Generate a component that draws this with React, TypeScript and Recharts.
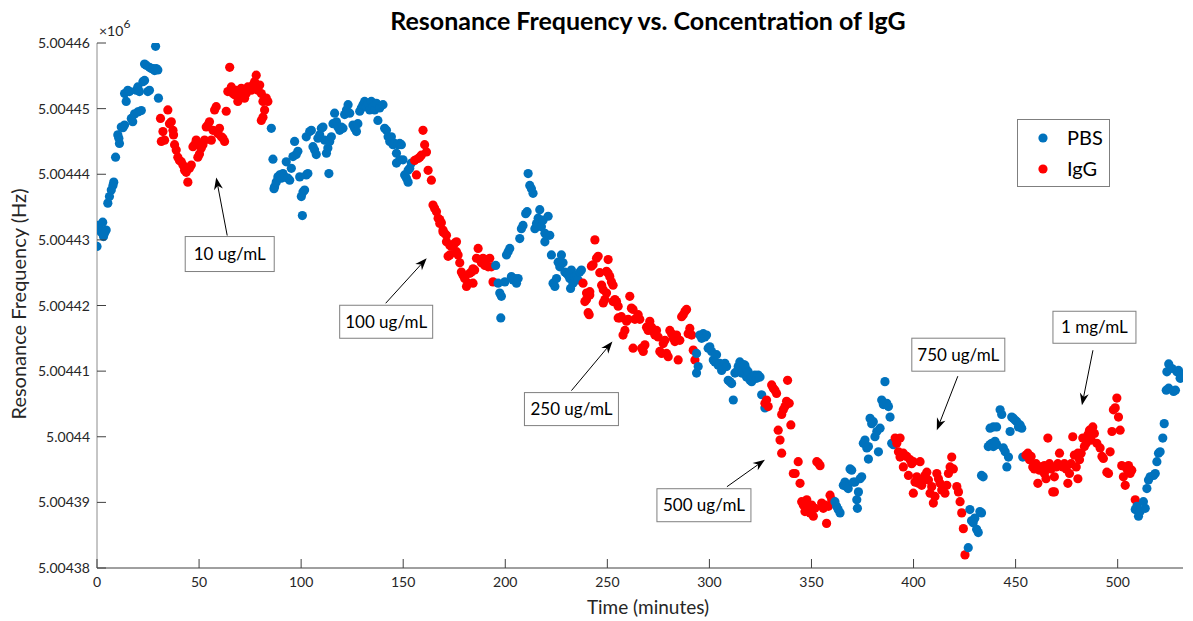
import { ScatterChart, Scatter, XAxis, YAxis, Legend, ReferenceDot } from 'recharts';

// frequency values are stored as Hz above this base (5.00438 x 10^6 Hz)
const BASE_HZ = 5004380;

const PBS_COLOR = '#0072BD';
const IGG_COLOR = '#FF0000';

const xTicks = [0, 50, 100, 150, 200, 250, 300, 350, 400, 450, 500];
const yTicks = [0, 10, 20, 30, 40, 50, 60, 70, 80];

// [time (min), Hz above BASE_HZ]
const pbs1 = [
  [0, 49.0], [0.4, 52.2], [1.2, 51.8], [2, 51.2], [2.8, 52.7], [3.2, 50.5], [3.7, 51.0], [4.5, 51.5],
  [5.3, 55.6], [6.1, 56.6], [7, 57.6], [7.8, 58.3], [8.2, 58.8], [9.1, 62.6], [10.2, 66.0], [10.7, 65.5],
  [11, 64.7], [11.9, 67.2], [12.7, 67.1], [13.5, 67.5], [13.5, 72.3], [14.3, 71.1], [15.1, 72.8], [15.9, 72.6],
  [16.8, 68.5], [17.5, 68.0], [18.4, 69.2], [19.2, 72.8], [20, 73.3], [20, 69.5], [20.8, 72.6], [21.7, 69.7],
  [22.5, 74.1], [23.3, 74.3], [23.3, 76.8], [24.1, 76.6], [24.9, 72.6], [25.7, 72.8], [25.7, 76.3], [26.6, 76.1],
  [27.4, 76.1], [28.2, 75.8], [28.7, 79.5], [29, 76.1], [29.8, 75.9], [30.1, 71.6],
];

const igg1 = [
  [31.1, 68.5], [31.5, 65.0], [32.3, 66.5], [33.1, 65.2], [34.7, 69.8], [35.5, 67.7], [36.4, 68.0], [37.2, 66.7],
  [37.5, 66.0], [38, 64.5], [38.8, 63.7], [39.6, 62.6], [40.4, 62.1], [41.3, 61.9], [42.1, 61.4], [42.9, 60.6],
  [43.7, 60.3], [44.5, 58.8], [45.3, 60.9], [46.2, 61.4], [47, 64.2], [47.8, 64.5], [48.6, 65.2], [49.4, 62.6],
  [50.2, 63.1], [51.1, 64.0], [51.9, 64.5], [52.7, 65.2], [53.5, 67.2], [54.3, 67.5], [55.1, 68.0], [56, 65.2],
  [56.8, 66.7], [57.6, 69.8], [58.4, 70.3], [59.2, 66.2], [60, 67.0], [60.9, 65.7], [61.7, 65.5], [62.5, 65.0],
  [63.3, 69.6], [64.1, 72.6], [65, 76.3], [65.8, 73.3], [66.6, 72.3], [67.4, 72.1], [68.2, 72.8], [69, 71.1],
  [69.9, 71.8], [70.7, 73.1], [71.5, 72.6], [72.3, 71.6], [73.1, 72.3], [73.9, 73.3], [74.8, 73.1], [75.6, 72.8],
  [76.4, 73.6], [77.2, 74.1], [78, 75.1], [78.8, 72.8], [79.7, 73.6], [80.5, 72.3], [80.5, 68.2], [81.3, 71.1],
  [81.3, 68.7], [82.1, 69.8], [82.9, 71.6], [83.7, 71.1],
];

const pbs2 = [
  [85.4, 67.0], [86.2, 62.3], [86.7, 57.8], [87, 58.1], [87.8, 58.8], [88.6, 59.6], [89.5, 59.9], [90.3, 59.4],
  [91.1, 60.1], [91.9, 59.6], [92.7, 61.9], [93.5, 59.4], [94.4, 59.1], [95.2, 60.9], [96, 62.7], [96.8, 65.0],
  [97.6, 63.0], [98.4, 63.5], [99.3, 59.6], [100.1, 56.6], [100.6, 53.7], [100.9, 57.3], [101.7, 57.6], [102.5, 59.9],
  [102.5, 65.7], [103.3, 60.1], [104.2, 66.5], [105, 66.7], [105.8, 64.2], [106.6, 63.7], [107.4, 63.0], [108.2, 65.5],
  [109.1, 66.0], [109.9, 67.0], [110.7, 67.2], [111.5, 65.2], [112.4, 63.2], [113.1, 64.0], [113.6, 60.1], [114, 65.0],
  [114.8, 65.7], [115.6, 67.7], [116.4, 69.3], [117.3, 68.0], [118, 67.2], [118.9, 66.7], [119.7, 67.2], [120.5, 67.0],
  [121.3, 69.1], [122.2, 69.8], [123, 70.6], [123.8, 69.3], [125.4, 67.5], [126.2, 67.0], [127.1, 66.5], [127.8, 67.7],
  [128.7, 69.6], [129.5, 70.1], [130.3, 70.6], [131.1, 71.1], [132, 70.3], [132.8, 70.8], [133.6, 69.8], [134.4, 71.1],
  [135.2, 70.3], [136, 69.8], [136.9, 70.8], [137.6, 68.2], [138.5, 70.1], [140.1, 70.6], [140.9, 67.0], [141.8, 66.7],
  [142.6, 65.7], [143.4, 65.0], [144.2, 65.7], [145, 64.5], [145.8, 64.7], [146.7, 63.2], [146.7, 61.7], [147.4, 64.5],
  [148.3, 64.7], [148.3, 62.2], [149.1, 64.5], [149.9, 62.2], [150.7, 59.9], [151.6, 59.4], [152.4, 58.8], [152.4, 60.6],
  [153.2, 60.9], [154, 61.7],
];

const igg2 = [
  [155.6, 62.1], [156.5, 59.9], [157.3, 62.4], [158.1, 62.6], [158.9, 62.9], [159.7, 66.7], [160.5, 64.5], [161.4, 63.4],
  [162.2, 60.6], [163.8, 59.1], [164.6, 55.3], [165.4, 54.8], [166.3, 54.3], [167.1, 53.3], [167.9, 53.1], [167.9, 52.5],
  [168.7, 52.6], [169.5, 51.5], [169.5, 51.2], [170.3, 51.0], [171.2, 50.7], [171.2, 49.7], [172, 47.5], [172.8, 47.7],
  [172.8, 49.2], [173.6, 49.0], [174.4, 49.2], [175.2, 49.5], [176.1, 48.2], [176.1, 49.7], [176.9, 47.7], [177.7, 46.5],
  [178.5, 45.1], [179.3, 44.6], [180.1, 44.1], [181, 42.9], [181.8, 43.4], [182.6, 44.9], [183.4, 45.1], [184.2, 45.6],
  [184.2, 43.4], [185, 45.4], [185.9, 47.2], [186.7, 48.7], [187.5, 47.0], [188.3, 46.5], [189.1, 47.2], [190, 46.1],
  [190.8, 47.0], [191.6, 45.9], [192.4, 47.2], [193.2, 45.9], [194, 43.6],
];

const pbs3 = [
  [195.3, 46.1], [196.5, 43.4], [197.3, 41.9], [197.8, 38.1], [198.1, 41.4], [199.8, 43.6], [200.6, 47.7], [201.4, 48.2],
  [202.2, 48.7], [203, 44.4], [203.8, 43.9], [204.7, 44.1], [205.5, 43.4], [206.3, 44.1], [207.1, 50.2], [207.9, 51.7],
  [208.7, 52.2], [210, 54.0], [210.7, 54.3], [211.2, 60.1], [212, 58.3], [212.8, 57.8], [213.6, 57.1], [214.5, 51.7],
  [215.3, 52.5], [216.1, 53.3], [216.9, 54.6], [217.7, 52.0], [218.5, 53.0], [219.4, 51.0], [219.4, 49.7], [220.2, 50.7],
  [221, 53.6], [221.8, 50.7], [222.6, 47.7], [223.4, 43.4], [224.3, 42.9], [225.1, 44.1], [225.9, 46.6], [226.7, 45.9],
  [227.5, 47.7], [228.3, 46.5], [229.2, 45.1], [230, 44.9], [230.8, 44.6], [231.6, 44.1], [232, 42.6], [232.4, 45.4],
  [233.2, 43.4], [234, 44.4], [234.9, 44.6], [235.7, 43.9], [236.5, 45.1], [237.3, 45.4],
];

const igg3 = [
  [238.1, 43.4], [239, 40.6], [239.8, 41.9], [239.8, 40.9], [240.6, 38.9], [241.1, 38.6], [241.4, 41.6], [241.4, 42.1],
  [242.2, 46.0], [243, 46.2], [243.9, 50.0], [244.7, 47.2], [245.5, 47.5], [246.3, 45.0], [247.2, 43.1], [248, 42.4],
  [248, 40.4], [248.8, 40.9], [249.6, 45.2], [249.6, 41.9], [250.4, 47.0], [250.4, 44.9], [251.2, 44.4], [252, 43.6],
  [252.8, 40.6], [252.8, 43.1], [253.7, 40.9], [254.5, 40.6], [255.3, 38.1], [255.3, 39.9], [256.1, 38.1], [256.9, 38.3],
  [257.7, 35.5], [258.6, 36.2], [259.4, 37.6], [260.2, 37.9], [261, 41.4], [261.8, 39.6], [262.6, 39.4], [262.6, 33.5],
  [263.5, 37.9], [264.3, 38.1], [265.1, 38.6], [265.9, 37.9], [266.8, 33.5], [267.6, 33.0], [268.4, 34.0], [269.2, 36.7],
  [270, 36.2], [270.8, 37.6], [271.7, 36.7], [272.5, 36.0], [273.3, 35.5], [274.1, 36.2], [274.9, 35.2], [275.7, 33.0],
  [276.6, 32.7], [277.4, 34.2], [278.2, 34.7], [279, 32.7], [279.8, 32.2], [280.6, 36.2], [281.5, 35.7], [282.3, 35.0],
  [283.1, 34.5], [283.9, 35.5], [284.7, 31.7], [285.5, 34.7], [286.4, 38.3], [287.2, 38.6], [288, 39.1], [288.8, 39.4],
  [289.6, 35.7], [290.4, 36.5], [291.3, 35.5], [292.1, 33.2], [292.9, 31.7],
];

const pbs4 = [
  [293.7, 32.7], [293.7, 29.7], [294.5, 30.7], [295.3, 35.5], [296.2, 35.0], [297, 35.7], [297.8, 35.2], [298.6, 35.5],
  [299.4, 33.5], [300.2, 33.7], [301.1, 33.0], [301.9, 31.7], [302.7, 31.4], [303.5, 32.5], [304.3, 30.9], [305.1, 31.2],
  [306, 30.1], [306.8, 30.7], [307.6, 31.2], [308.4, 30.7], [309.2, 28.6], [310, 28.4], [310.9, 28.1], [311.7, 25.6],
  [312.5, 29.7], [313.3, 29.9], [314.1, 30.7], [314.9, 31.4], [315.8, 29.7], [316.6, 30.1], [316.6, 31.0], [317.4, 30.9],
  [318.2, 29.1], [318.2, 30.2], [319, 29.9], [319.9, 28.6], [320.7, 28.4], [320.7, 29.1], [321.5, 29.1], [322.3, 29.4],
  [323.1, 28.9], [323.9, 29.4], [324.8, 29.1], [325.6, 26.4], [327.2, 24.4],
];

const igg4 = [
  [327.2, 25.1], [328, 25.6], [328.8, 24.6], [330.5, 27.9], [331.3, 27.4], [332.1, 27.1], [332.9, 26.6], [333.7, 21.0],
  [334.6, 19.5], [335.4, 17.5], [335.4, 23.4], [336.2, 24.1], [337, 24.6], [337.8, 25.4], [338.3, 28.6], [339.1, 25.1],
  [339.9, 21.8], [341.1, 14.4], [342, 14.4], [343.5, 16.2], [344.4, 12.9], [345.2, 10.1], [346, 9.6], [346.8, 8.6],
  [347.7, 10.4], [348.5, 9.1], [349.3, 8.4], [350.1, 9.6], [350.9, 7.9], [351.7, 9.1], [352.6, 16.2], [353.4, 16.0],
  [354.2, 15.6], [355, 9.9], [355.8, 9.1], [356.6, 9.6], [357.4, 6.8], [358.3, 9.4], [359.1, 11.1], [359.9, 10.4],
];

const pbs5 = [
  [361.5, 10.1], [362.3, 9.4], [363.1, 8.9], [364, 8.4], [365.6, 12.6], [366.4, 13.1], [367.2, 12.4], [368, 12.1],
  [368.9, 15.1], [369.7, 14.9], [370.5, 13.1], [371.3, 13.1], [372.2, 10.4], [372.5, 9.1], [373, 11.6], [373.8, 13.6],
  [374.6, 13.9], [375.4, 19.0], [376.2, 19.5], [377.1, 18.3], [377.9, 18.5], [377.9, 16.6], [378.7, 22.8], [379.5, 22.0],
  [380.3, 22.3], [381.1, 20.0], [382, 20.8], [382.8, 17.7], [383.6, 21.3], [384.4, 25.6], [385.2, 24.9], [386, 28.4],
  [386.9, 25.1], [387.7, 24.6], [388.5, 23.0], [389.3, 19.0], [390.1, 18.8],
];

const igg5 = [
  [391, 19.8], [391.8, 19.0], [392.6, 17.7], [393.4, 19.8], [393.4, 16.9], [394.2, 17.4], [395, 17.5], [395, 15.4],
  [395.8, 17.1], [396.7, 17.0], [397.5, 14.1], [398.3, 16.5], [399.1, 15.9], [399.9, 16.2], [399.9, 11.4], [400.7, 13.1],
  [401.6, 13.9], [402.4, 12.9], [403.2, 16.2], [404, 12.6], [404.8, 13.4], [405.6, 14.1], [406.5, 14.6], [407.3, 13.4],
  [408.1, 11.4], [408.9, 12.4], [409.7, 9.9], [410.5, 10.9], [411.4, 14.4], [412.2, 13.6], [413, 12.9], [413.8, 11.9],
  [414.6, 12.4], [415.4, 11.4], [416.3, 12.6], [417.1, 14.4], [417.9, 15.4], [418.7, 16.9], [419.5, 15.1], [421.2, 12.4],
  [422, 11.6], [422.8, 10.1], [423.6, 8.4], [424.4, 6.0], [425.2, 2.0],
];

const pbs6 = [
  [426.8, 3.1], [427.6, 8.9], [428.4, 7.2], [429.2, 6.9], [430, 7.6], [430.9, 5.9], [431.7, 5.4], [432.5, 8.6],
  [433.3, 8.4], [433.3, 14.1], [434.1, 13.9], [436.6, 18.5], [437.5, 18.8], [437.5, 21.3], [438.3, 19.0], [439.1, 18.5],
  [439.1, 21.5], [439.9, 19.3], [440.7, 18.8], [440.7, 21.5], [442.4, 24.1], [443.2, 23.4], [444, 18.3], [444.9, 17.7],
  [445.7, 15.4], [446.5, 16.9], [447.3, 20.8], [448.1, 23.0], [448.9, 22.8], [449.8, 22.5], [450.6, 22.3], [451.4, 21.5],
  [452.2, 21.8], [453, 21.3], [453.5, 16.9],
];

const igg6 = [
  [455.1, 17.2], [456, 17.5], [456.8, 16.5], [457.6, 17.0], [458.4, 15.4], [459.2, 15.1], [460, 15.9], [460.9, 12.9],
  [461.7, 14.9], [462.5, 15.4], [463.3, 15.1], [464.1, 14.4], [464.1, 15.6], [464.9, 13.6], [465.8, 19.8], [466.6, 15.9],
  [467.4, 15.1], [468.2, 11.6], [469, 13.9], [469, 11.6], [469.9, 15.4], [470.7, 15.9], [471.5, 17.5], [472.3, 15.6],
  [473.1, 15.4], [473.9, 15.9], [474.8, 15.1], [475.6, 12.9], [476.4, 14.4], [477.2, 15.9], [478, 20.0], [478.8, 17.2],
  [479.7, 15.4], [480.5, 17.5], [480.5, 13.6], [481.3, 16.5], [482.1, 17.5], [482.9, 19.8], [483.7, 18.5], [484.6, 19.0],
  [485.4, 20.3], [486.2, 21.0], [487, 19.5], [487.8, 21.5], [488.6, 20.5], [489.8, 19.0], [491.4, 18.3], [492.3, 17.0],
  [493, 16.7], [494.7, 14.6], [495.5, 14.4], [496.3, 17.7], [497.2, 20.8], [497.9, 24.1], [498.8, 24.4], [499.6, 25.9],
  [500.4, 23.0], [501.2, 21.0], [502, 15.6], [502.8, 13.9], [503.7, 12.6], [504.5, 15.1], [505.3, 15.6], [506.1, 14.4],
  [506.9, 14.9], [508.6, 10.4],
];

const pbs7 = [
  [508.6, 8.9], [509.4, 9.4], [510.2, 7.9], [511, 8.6], [512.6, 10.1], [513.5, 9.1], [514.3, 12.1], [515.1, 13.4],
  [515.9, 13.9], [517.6, 14.1], [518.4, 14.4], [519.2, 16.2], [520, 17.5], [520.8, 17.7], [522.1, 19.8], [522.8, 22.0],
  [523.8, 27.1], [524.1, 29.9], [525, 27.4], [525, 31.1], [526.6, 30.4], [527.4, 26.9], [528.3, 27.1], [529, 29.9],
  [529.8, 30.1], [530.6, 28.9], [531.5, 29.4],
];

// chronological order, so later segments draw on top like the original
const segments = [
  { name: 'PBS', pts: pbs1 }, { name: 'IgG', pts: igg1 },
  { name: 'PBS', pts: pbs2 }, { name: 'IgG', pts: igg2 },
  { name: 'PBS', pts: pbs3 }, { name: 'IgG', pts: igg3 },
  { name: 'PBS', pts: pbs4 }, { name: 'IgG', pts: igg4 },
  { name: 'PBS', pts: pbs5 }, { name: 'IgG', pts: igg5 },
  { name: 'PBS', pts: pbs6 }, { name: 'IgG', pts: igg6 },
  { name: 'PBS', pts: pbs7 },
];

// annotation text and the point its arrow points at
const noteLabels = ['10 ug/mL', '100 ug/mL', '250 ug/mL', '500 ug/mL', '750 ug/mL', '1 mg/mL'];
const noteAnchors = [
  [58.4, 59.5], [161.5, 47.2], [252.5, 34.5], [327.2, 16.5], [411.4, 21.0], [482.5, 24.8],
];
// pixel offsets from the arrow tip: box left/top, box size, arrow tail
const noteLayout = [
  { bx: -31, by: 59, bw: 89, bh: 35, sx: 11, sy: 58 },
  { bx: -87, by: 47, bw: 93, bh: 33, sx: -41, sy: 45 },
  { bx: -88, by: 51, bw: 94, bh: 33, sx: -41, sy: 49 },
  { bx: -108, by: 29, bw: 94, bh: 33, sx: -38, sy: 27 },
  { bx: -25, by: -92, bw: 93, bh: 33, sx: 21, sy: -54 },
  { bx: -29, by: -94, bw: 83, bh: 32, sx: 11, sy: -55 },
];

const FONT = 'Lato, "Open Sans", sans-serif';

const fmtHz = (v: number) => String(Number(((BASE_HZ + v) / 1e6).toFixed(5)));

function XTick({ x, y, payload }: any) {
  return (
    <g>
      <line x1={x} y1={y} x2={x} y2={y - 9} stroke="#404040" />
      <text x={x} y={y + 19} textAnchor="middle" fill="#262626" fontSize={14} fontFamily={FONT}>
        {payload.value}
      </text>
    </g>
  );
}

function YTick({ x, y, payload }: any) {
  return (
    <g>
      <line x1={x} y1={y} x2={x + 9} y2={y} stroke="#404040" />
      <text x={x - 7} y={y + 5} textAnchor="end" fill="#262626" fontSize={14} fontFamily={FONT}>
        {fmtHz(payload.value)}
      </text>
    </g>
  );
}

function Dot(props: any) {
  const { cx, cy, fill } = props;
  return <circle cx={cx} cy={cy} r={4.6} fill={fill} />;
}

function Note({ cx, cy, text, lay }: any) {
  const { bx, by, bw, bh, sx, sy } = lay;
  const x0 = cx + sx;
  const y0 = cy + sy;
  const ang = Math.atan2(cy - y0, cx - x0);
  const len = 12;
  const half = 4.5;
  const ux = Math.cos(ang);
  const uy = Math.sin(ang);
  const bxp = cx - ux * len;
  const byp = cy - uy * len;
  const nx = cx - ux * len * 0.7;
  const ny = cy - uy * len * 0.7;
  const head = [
    [cx, cy],
    [bxp - uy * half, byp + ux * half],
    [nx, ny],
    [bxp + uy * half, byp - ux * half],
  ]
    .map((p) => p.join(','))
    .join(' ');
  return (
    <g>
      <line x1={x0} y1={y0} x2={nx} y2={ny} stroke="#000" strokeWidth={1} />
      <polygon points={head} fill="#000" />
      <rect x={cx + bx} y={cy + by} width={bw} height={bh} fill="#fff" stroke="#7f7f7f" strokeWidth={1} />
      <text
        x={cx + bx + bw / 2}
        y={cy + by + bh / 2 + 6}
        textAnchor="middle"
        fontSize={17}
        fontFamily={FONT}
        fill="#000"
      >
        {text}
      </text>
    </g>
  );
}

function LegendBox() {
  return (
    <svg width={94} height={69}>
      <rect x={0.5} y={0.5} width={92} height={67} fill="#fff" stroke="#7f7f7f" />
      <circle cx={26} cy={19} r={4.6} fill={PBS_COLOR} />
      <text x={50} y={26} fontSize={20} fontFamily={FONT} fill="#000">PBS</text>
      <circle cx={26} cy={50} r={4.6} fill={IGG_COLOR} />
      <text x={50} y={57} fontSize={20} fontFamily={FONT} fill="#000">IgG</text>
    </svg>
  );
}

export default function App() {
  return (
    <div style={{ position: 'absolute', left: 0, top: 0, width: 1193, height: 621, background: '#fff' }}>
      <ScatterChart width={1193} height={621} margin={{ top: 43, right: 10, bottom: 23, left: 0 }}>
        <XAxis
          type="number"
          dataKey="t"
          domain={[0, 532]}
          ticks={xTicks}
          interval={0}
          height={30}
          axisLine={{ stroke: '#404040' }}
          tickLine={false}
          tickSize={0}
          tickMargin={0}
          tick={<XTick />}
          allowDataOverflow
        />
        <YAxis
          type="number"
          dataKey="f"
          domain={[0, 80]}
          ticks={yTicks}
          interval={0}
          width={97}
          axisLine={{ stroke: '#8c8c8c' }}
          tickLine={false}
          tickSize={0}
          tickMargin={0}
          tick={<YTick />}
          allowDataOverflow
        />
        <Legend
          layout="horizontal"
          verticalAlign="middle"
          align="center"
          content={() => <LegendBox />}
          wrapperStyle={{ position: 'absolute', left: 1017, top: 119, width: 94, height: 69 }}
        />
        {segments.map((s, i) => (
          <Scatter
            key={i}
            name={s.name}
            data={s.pts.map(([t, f]) => ({ t, f }))}
            fill={s.name === 'PBS' ? PBS_COLOR : IGG_COLOR}
            shape={<Dot />}
            isAnimationActive={false}
            legendType="none"
          />
        ))}
        {noteLabels.map((label, i) => (
          <ReferenceDot
            key={label}
            x={noteAnchors[i][0]}
            y={noteAnchors[i][1]}
            ifOverflow="visible"
            shape={(p: any) => <Note cx={p.cx} cy={p.cy} text={label} lay={noteLayout[i]} />}
          />
        ))}
      </ScatterChart>
      <svg
        width={1193}
        height={621}
        style={{ position: 'absolute', left: 0, top: 0, pointerEvents: 'none' }}
      >
        <text x={648} y={30} textAnchor="middle" fontSize={25} fontWeight="bold" fontFamily={FONT} fill="#000">
          Resonance Frequency vs. Concentration of IgG
        </text>
        <text x={99} y={36} fontSize={14} fontFamily={FONT} fill="#262626">
          ×10<tspan dy={-8} fontSize={12}>6</tspan>
        </text>
        <text
          x={26}
          y={304}
          transform="rotate(-90 26 304)"
          textAnchor="middle"
          fontSize={20}
          fontFamily={FONT}
          fill="#262626"
        >
          Resonance Frequency (Hz)
        </text>
        <text x={648} y={614} textAnchor="middle" fontSize={19} fontFamily={FONT} fill="#262626">
          Time (minutes)
        </text>
      </svg>
    </div>
  );
}
